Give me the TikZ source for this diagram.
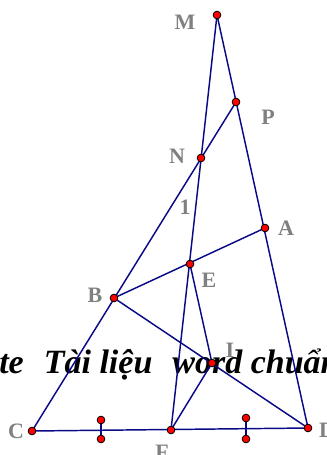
\documentclass[tikz,border=0pt]{standalone}
\usepackage{fontspec}
\setmainfont{Liberation Serif}
\definecolor{navyline}{RGB}{10,10,135}

\begin{document}
\begin{tikzpicture}[
    x=0.75pt, y=-0.75pt,
    seg/.style={draw=navyline, line width=1.1pt},
    dot/.style={circle, fill=red, draw=black, line width=0.6pt, inner sep=0pt, minimum size=5.8pt},
    lbl/.style={text=black!50, font=\fontsize{16.5}{19}\selectfont\bfseries, inner sep=0pt},
    wmark/.style={font=\fontsize{25.5}{30}\selectfont\bfseries\itshape, inner sep=0pt, anchor=base west}
]
\clip (0,0) rectangle (327,455);

% points
\coordinate (M) at (217,15);
\coordinate (P) at (236,102);
\coordinate (N) at (201,158);
\coordinate (A) at (265,228);
\coordinate (E) at (190,264);
\coordinate (B) at (114,298);
\coordinate (I) at (212,363);
\coordinate (C) at (32,431);
\coordinate (F) at (171,430);
\coordinate (D) at (308,428);
\coordinate (tickL1) at (101,420);
\coordinate (tickL2) at (101,439);
\coordinate (tickR1) at (246,418);
\coordinate (tickR2) at (246,439);

% labels
\node[lbl] (labM) at (185,22) {M};
\node[lbl] (labP) at (268,117) {P};
\node[lbl] (labN) at (177,156) {N};
\node[lbl] (lab1) at (185,207) {1};
\node[lbl] (labA) at (286,228) {A};
\node[lbl] (labE) at (209,280) {E};
\node[lbl] (labB) at (95,295) {B};
\node[lbl] (labI) at (230,350) {I};
\node[lbl] (labC) at (16,431) {C};
\node[lbl] (labD) at (327,430) {D};
\node[lbl] (labF) at (162,452) {F};

\node[wmark] (wm) at (-1,373) {te\hspace{15pt}Tài liệu\hspace{15pt}word chuẩn};

% segments
\draw[seg] (C) -- (P);
\draw[seg] (M) -- (F);
\draw[seg] (M) -- (D);
\draw[seg] (B) -- (A);
\draw[seg] (B) -- (D);
\draw[seg] (E) -- (I) -- (F);
\draw[seg] (C) -- (D);
\draw[seg] (tickL1) -- (tickL2);
\draw[seg] (tickR1) -- (tickR2);

\foreach \p in {M,P,N,A,E,B,I,C,F,D,tickL1,tickL2,tickR1,tickR2}
    \node[dot] at (\p) {};

\end{tikzpicture}
\end{document}
